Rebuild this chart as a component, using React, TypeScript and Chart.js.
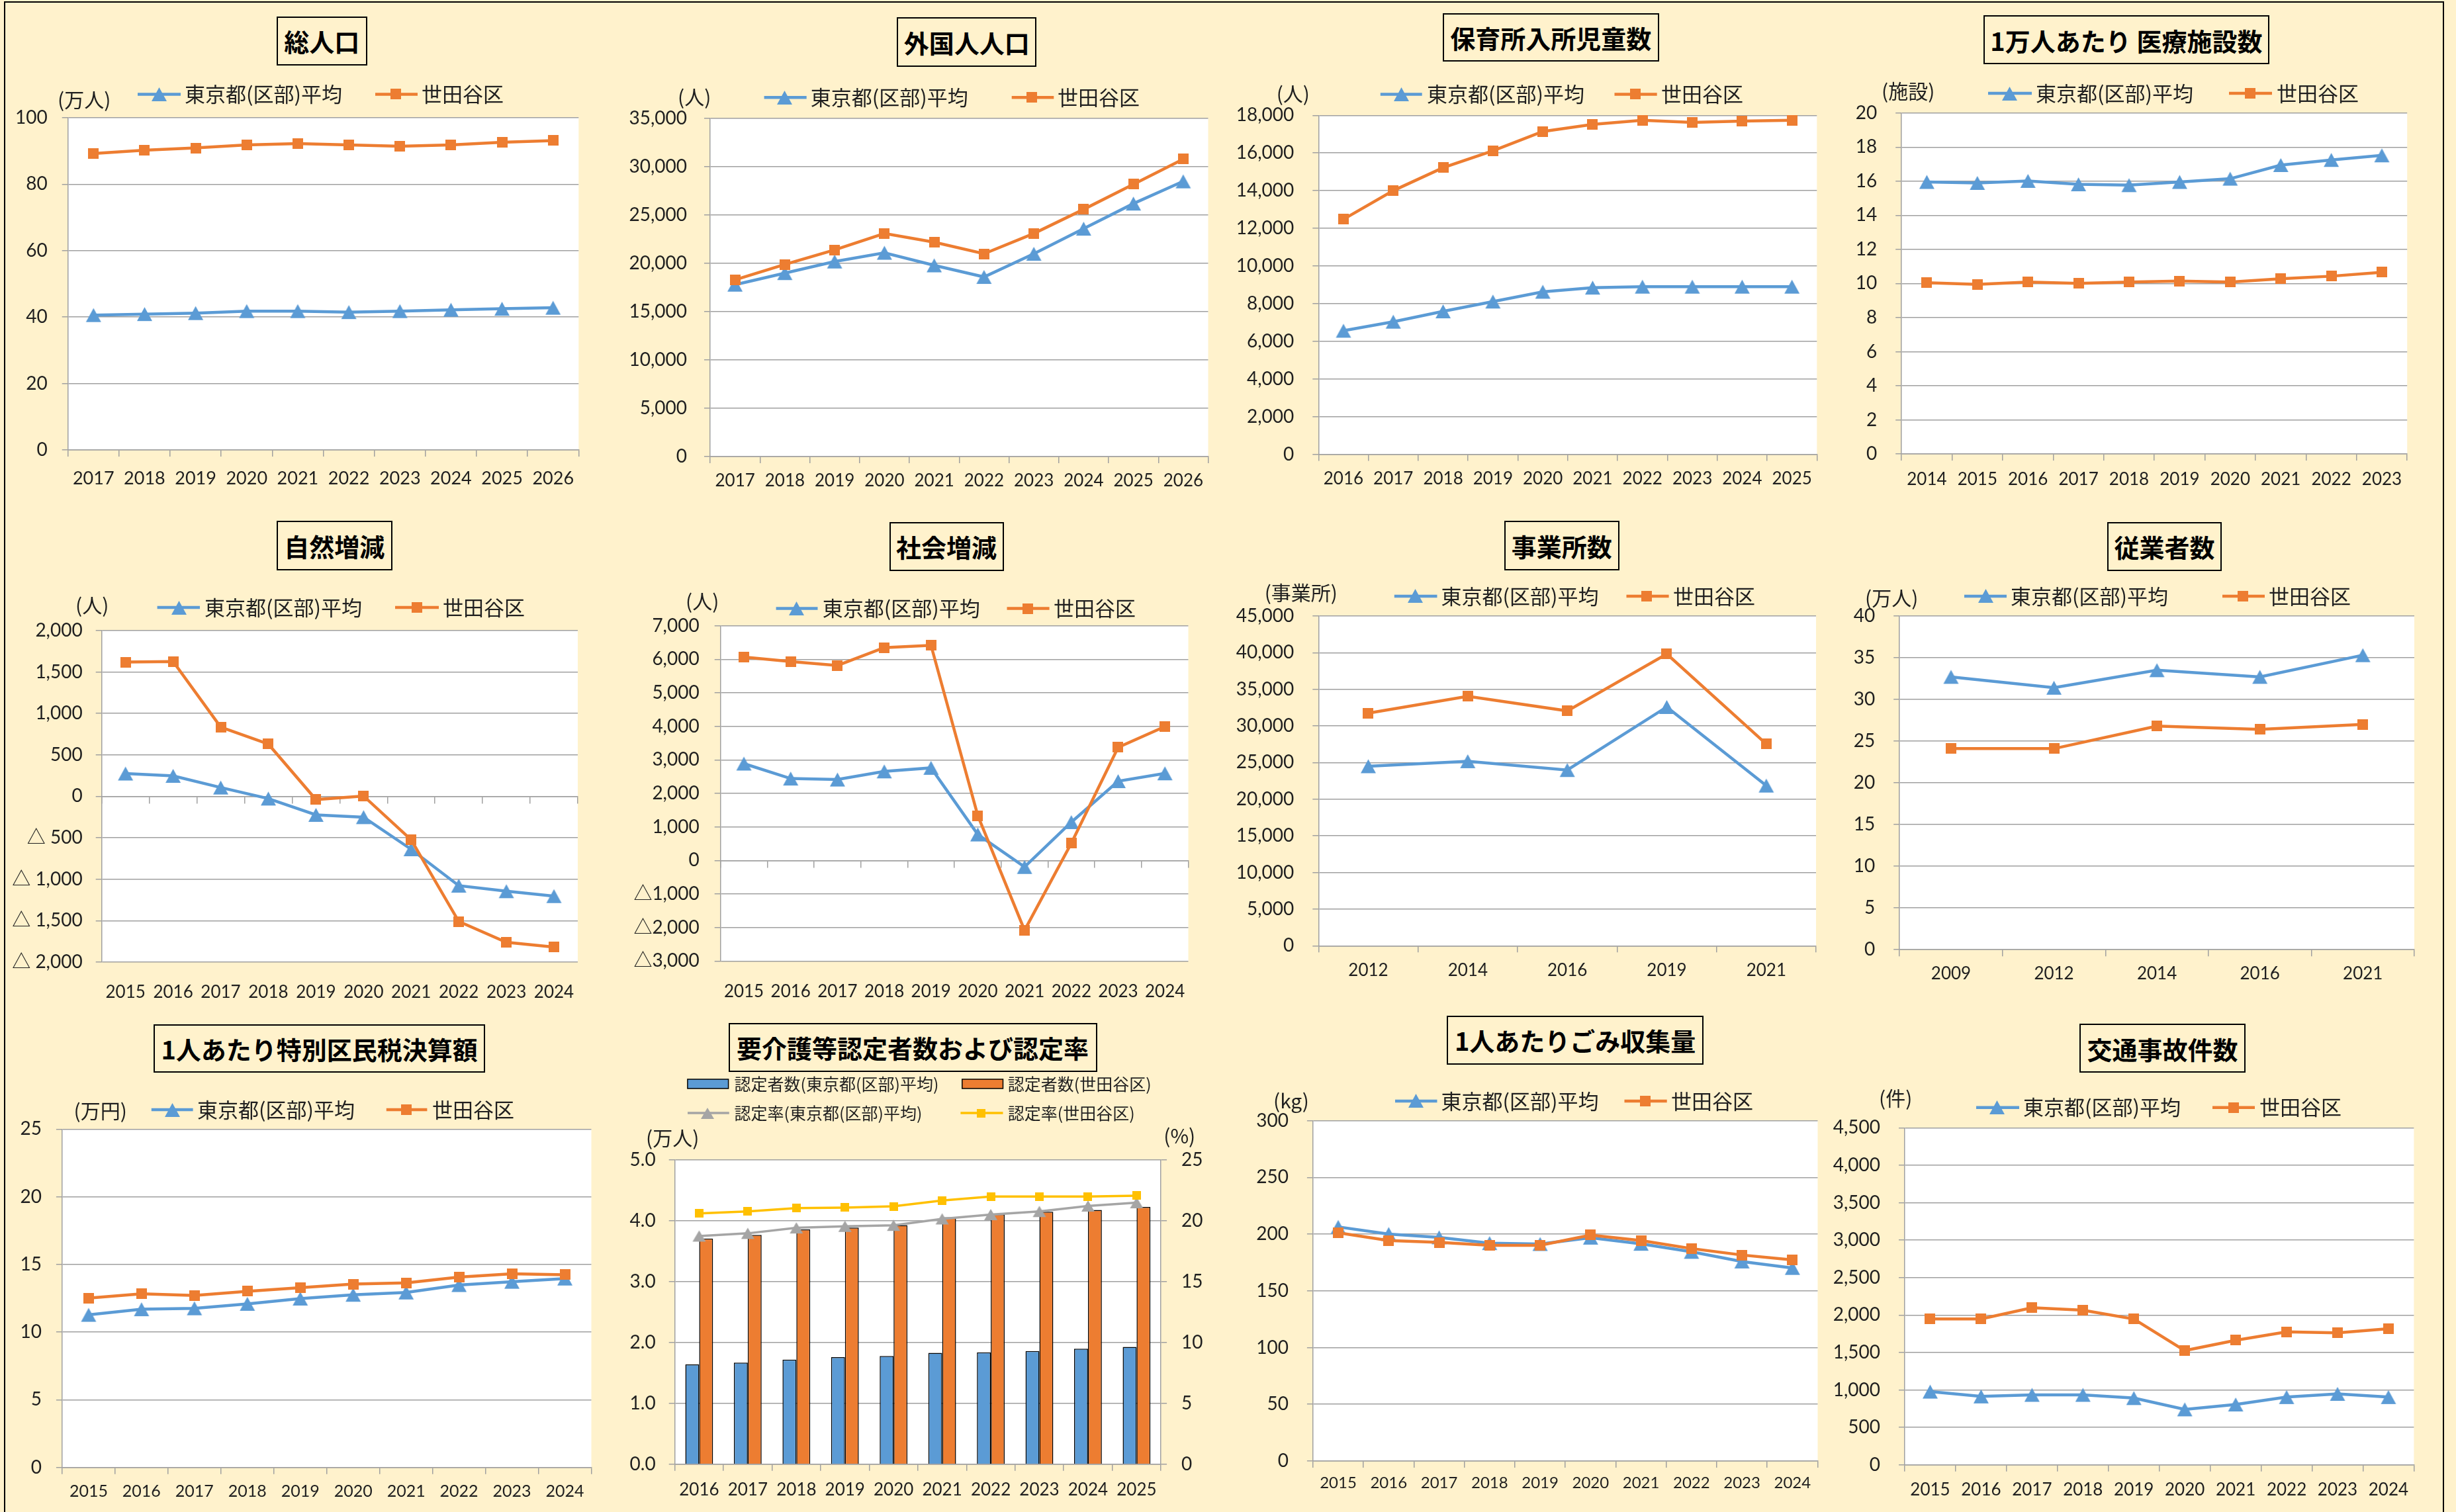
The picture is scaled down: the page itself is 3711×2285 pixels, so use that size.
import React, { useEffect, useRef } from 'react';
import { Chart, registerables } from 'chart.js';

Chart.register(...registerables);

// ---------------- data ----------------
const LABEL_TOKYO = '東京都(区部)平均';
const LABEL_SETAGAYA = '世田谷区';

const popYears = ['2017', '2018', '2019', '2020', '2021', '2022', '2023', '2024', '2025', '2026'];
const popTokyo = [40.6, 40.9, 41.2, 41.8, 41.8, 41.5, 41.8, 42.2, 42.5, 42.8];
const popSetagaya = [89.2, 90.2, 90.9, 91.8, 92.2, 91.8, 91.4, 91.8, 92.6, 93.1];

const foreignYears = ['2017', '2018', '2019', '2020', '2021', '2022', '2023', '2024', '2025', '2026'];
const foreignTokyo = [17800, 19000, 20200, 21100, 19800, 18600, 21000, 23600, 26200, 28500];
const foreignSetagaya = [18300, 19900, 21400, 23100, 22200, 21000, 23100, 25600, 28200, 30800];

const nurseryYears = ['2016', '2017', '2018', '2019', '2020', '2021', '2022', '2023', '2024', '2025'];
const nurseryTokyo = [6560, 7040, 7590, 8110, 8630, 8850, 8900, 8900, 8900, 8900];
const nurserySetagaya = [12480, 14000, 15220, 16120, 17140, 17520, 17740, 17620, 17690, 17740];

const medicalYears = ['2014', '2015', '2016', '2017', '2018', '2019', '2020', '2021', '2022', '2023'];
const medicalTokyo = [15.96, 15.9, 16.02, 15.82, 15.77, 15.96, 16.15, 16.95, 17.25, 17.52];
const medicalSetagaya = [10.05, 9.95, 10.09, 10.01, 10.09, 10.14, 10.09, 10.28, 10.43, 10.66];

const naturalYears = ['2015', '2016', '2017', '2018', '2019', '2020', '2021', '2022', '2023', '2024'];
const naturalTokyo = [275, 247, 106, -27, -224, -251, -639, -1078, -1145, -1204];
const naturalSetagaya = [1620, 1627, 835, 631, -39, 4, -525, -1510, -1761, -1820];

const socialYears = ['2015', '2016', '2017', '2018', '2019', '2020', '2021', '2022', '2023', '2024'];
const socialTokyo = [2888, 2442, 2413, 2655, 2762, 775, -194, 1143, 2364, 2597];
const socialSetagaya = [6066, 5930, 5814, 6347, 6415, 1337, -2083, 514, 3372, 3992];

const officeYears = ['2012', '2014', '2016', '2019', '2021'];
const officeTokyo = [24500, 25180, 23980, 32580, 21860];
const officeSetagaya = [31740, 34050, 32050, 39810, 27530];

const workerYears = ['2009', '2012', '2014', '2016', '2021'];
const workerTokyo = [32.7, 31.4, 33.5, 32.7, 35.3];
const workerSetagaya = [24.1, 24.1, 26.8, 26.4, 27.0];

const taxYears = ['2015', '2016', '2017', '2018', '2019', '2020', '2021', '2022', '2023', '2024'];
const taxTokyo = [11.28, 11.69, 11.76, 12.09, 12.48, 12.76, 12.93, 13.48, 13.72, 13.96];
const taxSetagaya = [12.52, 12.83, 12.71, 13.02, 13.29, 13.55, 13.64, 14.07, 14.31, 14.24];

const careYears = ['2016', '2017', '2018', '2019', '2020', '2021', '2022', '2023', '2024', '2025'];
const careCountTokyo = [1.64, 1.67, 1.72, 1.76, 1.78, 1.83, 1.84, 1.86, 1.9, 1.93];
const careCountSetagaya = [3.71, 3.77, 3.86, 3.89, 3.93, 4.06, 4.11, 4.15, 4.18, 4.23];
const careRateTokyo = [18.76, 18.98, 19.43, 19.56, 19.64, 20.17, 20.52, 20.78, 21.23, 21.5];
const careRateSetagaya = [20.62, 20.78, 21.05, 21.1, 21.2, 21.68, 22.0, 22.0, 22.0, 22.08];
const careLabels = ['認定者数(東京都(区部)平均)', '認定者数(世田谷区)', '認定率(東京都(区部)平均)', '認定率(世田谷区)'];

const garbageYears = ['2015', '2016', '2017', '2018', '2019', '2020', '2021', '2022', '2023', '2024'];
const garbageTokyo = [206.4, 200.1, 197.2, 192.1, 191.3, 196.9, 191.5, 184.4, 175.9, 170.2];
const garbageSetagaya = [201.2, 194.4, 192.7, 190.1, 190.1, 199.2, 194.4, 187.3, 181.6, 177.3];

const accidentYears = ['2015', '2016', '2017', '2018', '2019', '2020', '2021', '2022', '2023', '2024'];
const accidentTokyo = [978, 914, 935, 935, 892, 741, 806, 905, 948, 905];
const accidentSetagaya = [1948, 1948, 2099, 2065, 1948, 1526, 1664, 1776, 1763, 1819];

// ---------------- styles ----------------
const FONT_NUM = "Lato, 'Noto Sans CJK JP', sans-serif";
const FONT_JP = "'Noto Sans CJK JP', 'Noto Sans', sans-serif";
const C_BLUE = '#5B9BD5';
const C_ORANGE = '#ED7D31';
const C_GRAY = '#A5A5A5';
const C_YELLOW = '#FFC000';
const C_CREAM = '#FFF2CC';
const C_GRID = '#A0A0A0';
const C_TEXT = '#1F1F1F';

const comma = (v: number) => String(Math.round(Math.abs(v))).replace(/\B(?=(\d{3})+(?!\d))/g, ',');
const fmtInt = (v: number) => String(v);
const fmtComma = (v: number) => (v < 0 ? '-' : '') + comma(v);
const fmtTriSpace = (v: number) => (v < 0 ? '△ ' : '') + comma(v);
const fmtTri = (v: number) => (v < 0 ? '△' : '') + comma(v);
const fmtDec1 = (v: number) => v.toFixed(1);

// ---------------- markers ----------------
let markerCache: any = null;
function triMarker(color: string, w: number, h: number) {
  const c = document.createElement('canvas');
  c.width = w + 2;
  c.height = h + 2;
  const g = c.getContext('2d')!;
  g.fillStyle = color;
  g.beginPath();
  g.moveTo(c.width / 2, 1);
  g.lineTo(c.width - 1, c.height - 1);
  g.lineTo(1, c.height - 1);
  g.closePath();
  g.fill();
  return c;
}
function sqMarker(color: string, s: number) {
  const c = document.createElement('canvas');
  c.width = s;
  c.height = s;
  const g = c.getContext('2d')!;
  g.fillStyle = color;
  g.fillRect(0, 0, s, s);
  return c;
}
function markers() {
  if (!markerCache) {
    markerCache = {
      triBlue: triMarker(C_BLUE, 23, 21),
      sqOrange: sqMarker(C_ORANGE, 16),
      triGray: triMarker(C_GRAY, 20, 17),
      sqYellow: sqMarker(C_YELLOW, 13),
    };
  }
  return markerCache;
}

// ---------------- layout ----------------
const COL = [[8, 908], [910, 1840], [1845, 2762], [2764, 3688]];
const ROW = [[105, 760], [875, 1520], [1625, 2280]];

type LegendEntry = { ds: number; kind: 'line' | 'box'; x1: number; x2: number; mx: number; tx: number; y: number };

function lineLegend(y: number, xs: number[][]): LegendEntry[] {
  return xs.map((a, i) => ({ ds: i, kind: 'line', x1: a[0], x2: a[1], mx: a[2], tx: a[3], y }));
}

const PANELS: any[] = [
  {
    id: 'p1', kind: 'line', col: 0, row: 0,
    labels: popYears, tokyo: popTokyo, setagaya: popSetagaya,
    yMin: 0, yMax: 100, yStep: 20, fmt: fmtInt,
    plot: [102.7, 177.8, 874.3, 680.1], yPad: 22, xPad: 16.6, xFont: 27,
    title: { text: '総人口', l: 418, t: 24.6, w: 136.6, h: 74.6 },
    units: [{ text: '(万人)', x: 87, cy: 148.5 }],
    legend: lineLegend(142.4, [[208, 273, 240, 279], [567, 631, 598, 637]]), legendFont: 31,
  },
  {
    id: 'p2', kind: 'line', col: 1, row: 0,
    labels: foreignYears, tokyo: foreignTokyo, setagaya: foreignSetagaya,
    yMin: 0, yMax: 35000, yStep: 5000, fmt: fmtComma,
    plot: [1073, 179.2, 1832, 690], yPad: 26, xPad: 11.2, xFont: 26,
    title: { text: '外国人人口', l: 1354.8, t: 26, w: 211.7, h: 74.7 },
    units: [{ text: '(人)', x: 1024, cy: 144.9 }],
    legend: lineLegend(147.3, [[1154.6, 1218.7, 1185.8, 1224.7], [1528.7, 1592.3, 1559, 1598]]), legendFont: 31,
  },
  {
    id: 'p3', kind: 'line', col: 2, row: 0,
    labels: nurseryYears, tokyo: nurseryTokyo, setagaya: nurserySetagaya,
    yMin: 0, yMax: 18000, yStep: 2000, fmt: fmtComma,
    plot: [1992.3, 174.3, 2745.3, 686.5], yPad: 28, xPad: 11.2, xFont: 26,
    title: { text: '保育所入所児童数', l: 2180, t: 19.6, w: 326.7, h: 73.7 },
    units: [{ text: '(人)', x: 1928.7, cy: 140 }],
    legend: lineLegend(142.4, [[2085.8, 2148.7, 2117, 2156], [2439.5, 2503.7, 2470.7, 2510]]), legendFont: 31,
  },
  {
    id: 'p4', kind: 'line', col: 3, row: 0,
    labels: medicalYears, tokyo: medicalTokyo, setagaya: medicalSetagaya,
    yMin: 0, yMax: 20, yStep: 2, fmt: fmtInt,
    plot: [2873.2, 170.9, 3637.2, 686], yPad: 28, xPad: 12.7, xFont: 26,
    title: { text: '1万人あたり 医療施設数', l: 2996.8, t: 23.1, w: 432.2, h: 74.1 },
    units: [{ text: '(施設)', x: 2843, cy: 136 }],
    legend: lineLegend(141, [[3004, 3070, 3036, 3076], [3368, 3433, 3400, 3440]]), legendFont: 31,
  },
  {
    id: 'p5', kind: 'line', col: 0, row: 1, zeroAxis: true,
    labels: naturalYears, tokyo: naturalTokyo, setagaya: naturalSetagaya,
    yMin: -2000, yMax: 2000, yStep: 500, fmt: fmtTriSpace,
    plot: [153.7, 953, 873, 1453.9], yPad: 20, xPad: 22.2, xFont: 26,
    title: { text: '自然増減', l: 418, t: 787, w: 174.6, h: 75.1 },
    units: [{ text: '(人)', x: 114, cy: 913.2 }],
    legend: lineLegend(918.1, [[237.6, 302, 270, 309], [597, 663, 629.6, 669]]), legendFont: 31,
  },
  {
    id: 'p6', kind: 'line', col: 1, row: 1, zeroAxis: true,
    labels: socialYears, tokyo: socialTokyo, setagaya: socialSetagaya,
    yMin: -3000, yMax: 7000, yStep: 1000, fmt: fmtTri,
    plot: [1088.7, 945.6, 1795.5, 1452.4], yPad: 23, xPad: 22.7, xFont: 26,
    title: { text: '社会増減', l: 1343.5, t: 788.5, w: 173.2, h: 74.6 },
    units: [{ text: '(人)', x: 1036, cy: 907.3 }],
    legend: lineLegend(919.6, [[1172.6, 1235.5, 1203.8, 1242.7], [1521.5, 1585.6, 1552.7, 1592]]), legendFont: 31,
  },
  {
    id: 'p7', kind: 'line', col: 2, row: 1,
    labels: officeYears, tokyo: officeTokyo, setagaya: officeSetagaya,
    yMin: 0, yMax: 45000, yStep: 5000, fmt: fmtComma,
    plot: [1992.3, 930.9, 2744, 1429.3], yPad: 28, xPad: 12.2, xFont: 26,
    title: { text: '事業所数', l: 2272.9, t: 787, w: 173.8, h: 75.1 },
    units: [{ text: '(事業所)', x: 1910.7, cy: 893.6 }],
    legend: lineLegend(900.9, [[2106.8, 2171.5, 2138, 2177.5], [2457.5, 2521.6, 2487.5, 2528]]), legendFont: 31,
  },
  {
    id: 'p8', kind: 'line', col: 3, row: 1,
    labels: workerYears, tokyo: workerTokyo, setagaya: workerSetagaya,
    yMin: 0, yMax: 40, yStep: 5, fmt: fmtInt,
    plot: [2870.2, 930.9, 3648, 1435.2], yPad: 28, xPad: 11.2, xFont: 26,
    title: { text: '従業者数', l: 3184, t: 788.5, w: 173, h: 74.6 },
    units: [{ text: '(万人)', x: 2818, cy: 901.9 }],
    legend: lineLegend(900.9, [[2968, 3032, 3000, 3038], [3358, 3422, 3389, 3428]]), legendFont: 31,
  },
  {
    id: 'p9', kind: 'line', col: 0, row: 2,
    labels: taxYears, tokyo: taxTokyo, setagaya: taxSetagaya,
    yMin: 0, yMax: 25, yStep: 5, fmt: fmtInt,
    plot: [93.9, 1706.4, 906.5, 2217.7], yPad: 22, xPad: 11.6, xFont: 25,
    title: { text: '1人あたり特別区民税決算額', l: 231.8, t: 1547.8, w: 501.6, h: 73.7, ls: 0 },
    units: [{ text: '(万円)', x: 111.5, cy: 1677.1 }],
    legend: lineLegend(1677.1, [[228.8, 291.6, 260, 298], [583.8, 645.4, 614.3, 653]]), legendFont: 31,
  },
  {
    id: 'p10', kind: 'care', col: 1, row: 2,
    plot: [1019.7, 1753.2, 1754.1, 2212.8], yPad: 20, y2Pad: 22, xPad: 13.4, xFont: 26,
    title: { text: '要介護等認定者数および認定率', l: 1100.6, t: 1545.9, w: 557, h: 74.1 },
    units: [{ text: '(万人)', x: 976, cy: 1717.6 }, { text: '(%)', x: 1758.3, cy: 1715 }],
    legend: [
      { ds: 0, kind: 'box', x1: 1038.9, x2: 1100.6, mx: 0, tx: 1109.6, y: 1638 },
      { ds: 1, kind: 'box', x1: 1453.8, x2: 1515.5, mx: 0, tx: 1522.7, y: 1638 },
      { ds: 2, kind: 'line', x1: 1039, x2: 1101.8, mx: 1068.9, tx: 1109.6, y: 1682 },
      { ds: 3, kind: 'line', x1: 1451.4, x2: 1515.5, mx: 1482.5, tx: 1522.7, y: 1682 },
    ],
    legendFont: 25,
  },
  {
    id: 'p11', kind: 'line', col: 2, row: 2,
    labels: garbageYears, tokyo: garbageTokyo, setagaya: garbageSetagaya,
    yMin: 0, yMax: 300, yStep: 50, fmt: fmtInt,
    plot: [1983.9, 1693.7, 2746.5, 2207.9], yPad: 28, xPad: 8.6, xFont: 24,
    title: { text: '1人あたりごみ収集量', l: 2185.9, t: 1534.6, w: 388.5, h: 74.2 },
    units: [{ text: '(kg)', x: 1924, cy: 1661.5 }],
    legend: lineLegend(1663.9, [[2108, 2171.5, 2139.8, 2177.5], [2454.5, 2518.7, 2485.7, 2525]]), legendFont: 31,
  },
  {
    id: 'p12', kind: 'line', col: 3, row: 2,
    labels: accidentYears, tokyo: accidentTokyo, setagaya: accidentSetagaya,
    yMin: 0, yMax: 4500, yStep: 500, fmt: fmtComma,
    plot: [2878, 1704.4, 3647.4, 2213.8], yPad: 28, xPad: 12.4, xFont: 26,
    title: { text: '交通事故件数', l: 3142, t: 1546.8, w: 251, h: 74.7 },
    units: [{ text: '(件)', x: 2839, cy: 1658 }],
    legend: lineLegend(1673.7, [[2986, 3051, 3017, 3057], [3343, 3407, 3375, 3414]]), legendFont: 31,
  },
];

// ---------------- plugins ----------------
function plotBgPlugin() {
  return {
    id: 'plotBg',
    beforeDraw(chart: any) {
      const a = chart.chartArea;
      const ctx = chart.ctx;
      ctx.save();
      ctx.fillStyle = '#FFFFFF';
      ctx.fillRect(a.left, a.top, a.right - a.left, a.bottom - a.top);
      ctx.restore();
    },
  };
}

function legendPlugin(entries: LegendEntry[], font: number, ox: number, oy: number) {
  return {
    id: 'xlLegend',
    afterDraw(chart: any) {
      const ctx = chart.ctx;
      ctx.save();
      for (const e of entries) {
        const ds = chart.data.datasets[e.ds];
        const y = e.y - oy;
        if (e.kind === 'box') {
          const x = e.x1 - ox;
          const w = e.x2 - e.x1;
          const h = 14;
          ctx.fillStyle = ds.backgroundColor;
          ctx.fillRect(x, y - h / 2, w, h);
          ctx.strokeStyle = '#000';
          ctx.lineWidth = 1.5;
          ctx.strokeRect(x, y - h / 2, w, h);
        } else {
          ctx.strokeStyle = ds.borderColor;
          ctx.lineWidth = ds.borderWidth;
          ctx.beginPath();
          ctx.moveTo(e.x1 - ox, y);
          ctx.lineTo(e.x2 - ox, y);
          ctx.stroke();
          const img = ds.pointStyle;
          if (img && img.width) ctx.drawImage(img, Math.round(e.mx - ox - img.width / 2), Math.round(y - img.height / 2));
        }
        ctx.fillStyle = C_TEXT;
        ctx.font = `${font}px ${FONT_JP}`;
        ctx.textBaseline = 'middle';
        ctx.textAlign = 'left';
        ctx.fillText(ds.label, e.tx - ox, y);
      }
      ctx.restore();
    },
  };
}

// ---------------- config builders ----------------
function xScale(p: any, cb: number, pb: number, noTicks: boolean) {
  return {
    type: 'category',
    offset: true,
    grid: noTicks
      ? { display: false }
      : { offset: true, drawOnChartArea: false, drawTicks: true, tickLength: 10, color: C_GRID, lineWidth: 1.5 },
    border: { display: !noTicks, color: C_GRID, width: 1.5 },
    ticks: {
      autoSkip: false, maxRotation: 0, minRotation: 0, padding: p.xPad, color: C_TEXT,
      font: { family: FONT_NUM, size: p.xFont },
    },
    afterFit: (s: any) => { s.height = cb - pb; },
  };
}

function yScale(min: number, max: number, step: number, fmt: (v: number) => string, pad: number, width: number, position: string, onChart: boolean) {
  return {
    type: 'linear',
    position,
    min, max,
    ticks: {
      stepSize: step, padding: pad, color: C_TEXT,
      font: { family: FONT_NUM, size: 28 },
      callback: (v: any) => fmt(Number(v)),
    },
    grid: { color: C_GRID, lineWidth: 1.5, drawTicks: true, tickLength: 9, drawOnChartArea: onChart },
    border: { display: true, color: C_GRID, width: 1.5 },
    afterFit: (s: any) => { s.width = width; },
  };
}

function baseOptions(padding: any, scales: any) {
  return {
    responsive: false,
    maintainAspectRatio: false,
    animation: false,
    devicePixelRatio: 1,
    events: [],
    layout: { padding },
    plugins: { legend: { display: false }, tooltip: { enabled: false }, title: { display: false } },
    elements: { line: { tension: 0 } },
    scales,
  };
}

function buildConfig(p: any, box: number[]) {
  const mk = markers();
  const [cl, ct, cr, cb] = box;
  const [pl, pt, pr, pb] = p.plot;
  const plugins = [plotBgPlugin(), legendPlugin(p.legend, p.legendFont, cl, ct)];
  if (p.kind === 'care') {
    const scales = {
      x: xScale(p, cb, pb, false),
      y: yScale(0, 5, 1, fmtDec1, p.yPad, pl - cl, 'left', true),
      y2: yScale(0, 25, 5, fmtInt, p.y2Pad, cr - pr, 'right', false),
    };
    return {
      type: 'bar',
      data: {
        labels: careYears,
        datasets: [
          { type: 'bar', label: careLabels[0], data: careCountTokyo, backgroundColor: C_BLUE, borderColor: '#000', borderWidth: 1.5, yAxisID: 'y', order: 2, categoryPercentage: 0.57, barPercentage: 1 },
          { type: 'bar', label: careLabels[1], data: careCountSetagaya, backgroundColor: C_ORANGE, borderColor: '#000', borderWidth: 1.5, yAxisID: 'y', order: 2, categoryPercentage: 0.57, barPercentage: 1 },
          { type: 'line', label: careLabels[2], data: careRateTokyo, borderColor: C_GRAY, backgroundColor: C_GRAY, borderWidth: 3.5, pointStyle: mk.triGray, pointRadius: 9, yAxisID: 'y2', order: 1, clip: false },
          { type: 'line', label: careLabels[3], data: careRateSetagaya, borderColor: C_YELLOW, backgroundColor: C_YELLOW, borderWidth: 3.5, pointStyle: mk.sqYellow, pointRadius: 8, yAxisID: 'y2', order: 0, clip: false },
        ],
      },
      options: baseOptions({ left: 0, top: pt - ct, right: 0, bottom: 0 }, scales),
      plugins,
    };
  }
  const scales: any = {
    x: xScale(p, cb, pb, !!p.zeroAxis),
    y: yScale(p.yMin, p.yMax, p.yStep, p.fmt, p.yPad, pl - cl, 'left', true),
  };
  if (p.zeroAxis) {
    scales.x2 = {
      type: 'category', axis: 'x', position: { y: 0 }, offset: true,
      grid: { offset: true, drawOnChartArea: false, drawTicks: true, tickLength: 10, color: C_GRID, lineWidth: 1.5 },
      border: { display: true, color: C_GRID, width: 1.5 },
      ticks: { display: false },
      afterFit: (s: any) => { s.height = 0; },
    };
  }
  return {
    type: 'line',
    data: {
      labels: p.labels,
      datasets: [
        { label: LABEL_TOKYO, data: p.tokyo, borderColor: C_BLUE, backgroundColor: C_BLUE, borderWidth: 4.5, pointStyle: mk.triBlue, pointRadius: 10, clip: false, order: 1 },
        { label: LABEL_SETAGAYA, data: p.setagaya, borderColor: C_ORANGE, backgroundColor: C_ORANGE, borderWidth: 4.5, pointStyle: mk.sqOrange, pointRadius: 10, clip: false, order: 0 },
      ],
    },
    options: baseOptions({ left: 0, top: pt - ct, right: cr - pr, bottom: 0 }, scales),
    plugins,
  };
}

// ---------------- components ----------------
function Panel({ p }: { p: any }) {
  const ref = useRef<HTMLCanvasElement | null>(null);
  const box = [COL[p.col][0], ROW[p.row][0], COL[p.col][1], ROW[p.row][1]];
  const w = box[2] - box[0];
  const h = box[3] - box[1];
  useEffect(() => {
    if (!ref.current) return;
    const chart = new Chart(ref.current, buildConfig(p, box) as any);
    return () => chart.destroy();
  }, []);
  return (
    <>
      <canvas
        ref={ref}
        width={w}
        height={h}
        style={{ position: 'absolute', left: box[0], top: box[1], width: w, height: h }}
      />
      <div
        style={{
          position: 'absolute', left: p.title.l, top: p.title.t, width: p.title.w, height: p.title.h,
          border: '2px solid #000', boxSizing: 'border-box', display: 'flex', alignItems: 'center',
          justifyContent: 'center', fontFamily: FONT_JP, fontWeight: 700, fontSize: 38, color: '#000',
          letterSpacing: p.title.ls || 0, whiteSpace: 'nowrap',
        }}
      >
        {p.title.text}
      </div>
      {p.units.map((u: any, i: number) => (
        <div
          key={i}
          style={{
            position: 'absolute', left: u.x, top: u.cy - 20, height: 40, lineHeight: '40px',
            fontFamily: FONT_JP, fontSize: 30, color: C_TEXT, whiteSpace: 'nowrap',
          }}
        >
          {u.text}
        </div>
      ))}
    </>
  );
}

export default function App() {
  return (
    <div
      style={{
        position: 'absolute', left: 0, top: 0, width: 3711, height: 2285,
        background: C_CREAM, overflow: 'hidden',
      }}
    >
      <div
        style={{
          position: 'absolute', left: 6, top: 2, width: 3687, height: 2320,
          border: '2px solid #000', boxSizing: 'border-box',
        }}
      />
      {PANELS.map((p) => (
        <Panel key={p.id} p={p} />
      ))}
    </div>
  );
}
